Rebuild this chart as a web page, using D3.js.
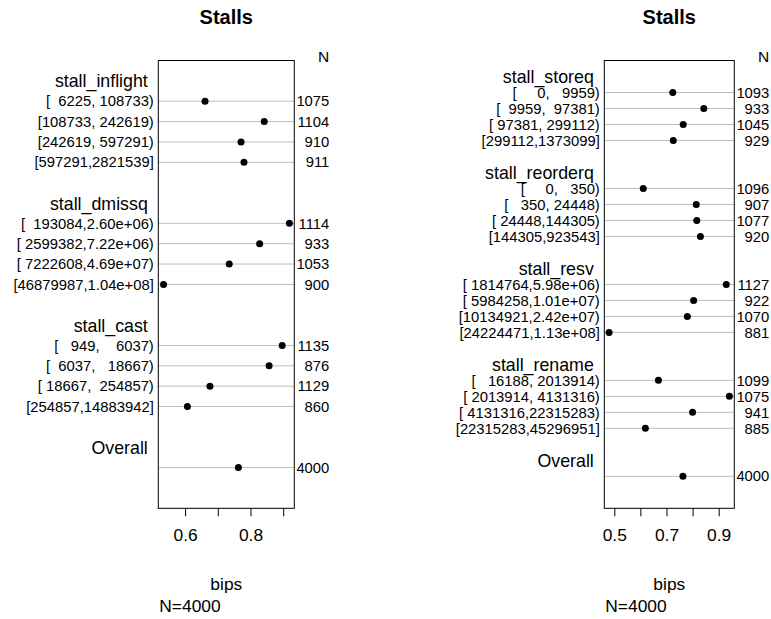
<!DOCTYPE html>
<html>
<head>
<meta charset="utf-8">
<script src="https://cdn.jsdelivr.net/npm/d3@7"></script>
<style>
  html, body { margin: 0; padding: 0; background: #fff; }
  svg { display: block; }
  text { font-family: "Liberation Sans", Arial, Helvetica, sans-serif; fill: #000; white-space: pre; }
</style>
</head>
<body>
<svg id="chart" width="771" height="619" xml:space="preserve"></svg>
<script>
// ---------------- DATA ----------------
const titleText = "Stalls";
const xLabel = "bips";
const footText = "N=4000";
const nHeader = "N";

// Left panel
const leftGroups = ["stall_inflight", "stall_dmissq", "stall_cast"];
const leftLabels = [
  ["[  6225, 108733)", "[108733, 242619)", "[242619, 597291)", "[597291,2821539]"],
  ["[  193084,2.60e+06)", "[ 2599382,7.22e+06)", "[ 7222608,4.69e+07)", "[46879987,1.04e+08]"],
  ["[   949,    6037)", "[  6037,   18667)", "[ 18667,  254857)", "[254857,14883942]"]
];
const leftBips = [
  [0.661, 0.842, 0.771, 0.780],
  [0.919, 0.828, 0.735, 0.534],
  [0.897, 0.857, 0.676, 0.607]
];
const leftN = [
  [1075, 1104, 910, 911],
  [1114, 933, 1053, 900],
  [1135, 876, 1129, 860]
];
const leftTicks = [0.6, 0.7, 0.8, 0.9];
const leftTickLabels = ["0.6", "", "0.8", ""];

// Right panel
const rightGroups = ["stall_storeq", "stall_reorderq", "stall_resv", "stall_rename"];
const rightLabels = [
  ["[     0,   9959)", "[  9959,  97381)", "[ 97381, 299112)", "[299112,1373099]"],
  ["[     0,   350)", "[   350, 24448)", "[ 24448,144305)", "[144305,923543]"],
  ["[ 1814764,5.98e+06)", "[ 5984258,1.01e+07)", "[10134921,2.42e+07)", "[24224471,1.13e+08]"],
  ["[   16188, 2013914)", "[ 2013914, 4131316)", "[ 4131316,22315283)", "[22315283,45296951]"]
];
const rightBips = [
  [0.724, 0.843, 0.764, 0.726],
  [0.611, 0.814, 0.816, 0.830],
  [0.929, 0.804, 0.780, 0.480],
  [0.669, 0.941, 0.800, 0.619]
];
const rightN = [
  [1093, 933, 1045, 929],
  [1096, 907, 1077, 920],
  [1127, 922, 1070, 881],
  [1099, 1075, 941, 885]
];
const rightTicks = [0.5, 0.6, 0.7, 0.8, 0.9];
const rightTickLabels = ["0.5", "", "0.7", "", "0.9"];

const overallLabel = "Overall";
const overallBips = 0.763;
const overallN = 4000;

// ---------------- DRAW ----------------
const svg = d3.select("#chart");
const FONT_LAB = 14.8, FONT_HEAD = 17.8, FONT_BIG = 17.4;

function drawPanel(opt) {
  const { groups, labels, bips, ns, ticks, tickLabels, x0, x1, domain } = opt;
  const top = 60.5, bottom = 508.3;
  const lastRow = groups.length * 6 + 3;
  const x = d3.scaleLinear().domain(domain).range([x0, x1]);
  const y = d3.scaleLinear().domain([-1, lastRow]).range([top, bottom]);
  const g = svg.append("g");
  const cx = (x0 + x1) / 2;

  // rows
  const rows = [];
  groups.forEach((grp, i) => {
    rows.push({ type: "head", text: grp, r: i * 6 });
    labels[i].forEach((lab, j) => {
      rows.push({ type: "item", text: lab, r: i * 6 + 1 + j, v: bips[i][j], n: ns[i][j] });
    });
  });
  rows.push({ type: "head", text: overallLabel, r: groups.length * 6 });
  rows.push({ type: "item", text: "", r: groups.length * 6 + 1, v: overallBips, n: overallN });

  const items = rows.filter(d => d.type === "item");
  const heads = rows.filter(d => d.type === "head");

  // grid lines
  g.selectAll("line.row").data(items).join("line")
    .attr("x1", x0).attr("x2", x1)
    .attr("y1", d => y(d.r)).attr("y2", d => y(d.r))
    .attr("stroke", "#bebebe").attr("stroke-width", 1);

  // box
  g.append("rect").attr("x", x0).attr("y", top).attr("width", x1 - x0).attr("height", bottom - top)
    .attr("fill", "none").attr("stroke", "#000").attr("stroke-width", 1);

  // dots
  g.selectAll("circle").data(items).join("circle")
    .attr("cx", d => x(d.v)).attr("cy", d => y(d.r)).attr("r", 3.5).attr("fill", "#000");

  // row labels
  g.selectAll("text.lab").data(items.filter(d => d.text)).join("text")
    .attr("x", x0 - 4.5).attr("y", d => y(d.r)).attr("dy", "0.35em")
    .attr("text-anchor", "end").style("font-size", FONT_LAB + "px")
    .text(d => d.text);

  // group headers
  g.selectAll("text.head").data(heads).join("text")
    .attr("x", x0 - 10.5).attr("y", d => y(d.r)).attr("dy", "0.37em")
    .attr("text-anchor", "end").style("font-size", FONT_HEAD + "px")
    .text(d => d.text);

  // N column
  const nx = x1 + 35;
  g.selectAll("text.n").data(items).join("text")
    .attr("x", nx).attr("y", d => y(d.r)).attr("dy", "0.35em")
    .attr("text-anchor", "end").style("font-size", FONT_LAB + "px")
    .text(d => d.n);
  g.append("text").attr("x", nx).attr("y", 61.7).attr("text-anchor", "end")
    .style("font-size", "15.5px").text(nHeader);

  // axis
  const axis = d3.axisBottom(x).tickValues(ticks).tickSize(8).tickPadding(4)
    .tickFormat((d, i) => tickLabels[i]);
  const ax = g.append("g").attr("transform", `translate(0,${bottom})`).call(axis);
  ax.select(".domain").remove();
  ax.selectAll(".tick line").attr("stroke", "#000");
  ax.selectAll(".tick text").attr("dy", null).attr("y", 32.5)
    .style("font-size", FONT_BIG + "px").style("font-family", "Liberation Sans, Arial, sans-serif");

  // title
  g.append("text").attr("x", cx).attr("y", 24).attr("text-anchor", "middle")
    .style("font-size", "20px").style("font-weight", "bold").text(titleText);
  // x label
  g.append("text").attr("x", cx).attr("y", 589.5).attr("text-anchor", "middle")
    .style("font-size", FONT_BIG + "px").text(xLabel);
  g.append("text").attr("x", x0 + 1).attr("y", 611.5).attr("text-anchor", "start")
    .style("font-size", FONT_BIG + "px").text(footText);
}

drawPanel({ groups: leftGroups, labels: leftLabels, bips: leftBips, ns: leftN,
  ticks: leftTicks, tickLabels: leftTickLabels, x0: 158.3, x1: 294.3, domain: [0.518, 0.934] });
drawPanel({ groups: rightGroups, labels: rightLabels, bips: rightBips, ns: rightN,
  ticks: rightTicks, tickLabels: rightTickLabels, x0: 604.3, x1: 734.3, domain: [0.4617, 0.9598] });
</script>
</body>
</html>
